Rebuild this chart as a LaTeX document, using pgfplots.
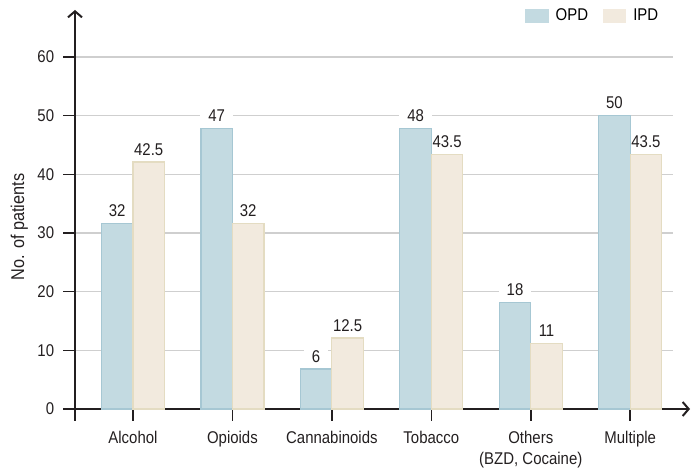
\documentclass[border=0pt]{standalone}
\usepackage{fontspec}
\setmainfont{Liberation Sans}[FakeStretch=0.88]
\usepackage{pgfplots}
\usepackage{pgfplotstable}
\pgfplotsset{compat=1.18}
\usetikzlibrary{arrows.meta}
\definecolor{opd}{HTML}{C3DAE1}
\definecolor{opdb}{HTML}{A6C7D3}
\definecolor{ipd}{HTML}{F2EADE}
\definecolor{ipdb}{HTML}{E4DCC2}
\definecolor{axc}{HTML}{231F20}
\definecolor{gridc}{HTML}{CFCFCF}
\newcommand{\bigf}{\fontsize{17}{20}\selectfont}
\pgfplotstableread{
x opd opdl ipd ipdl
0 31.6 32 42.1 42.5
1 47.8 47 31.6 32
2 6.8 6 12.1 12.5
3 47.8 48 43.4 43.5
4 18.2 18 11.2 11
5 50.0 50 43.4 43.5
}\datatab
\begin{document}
\bigf
\begin{tikzpicture}[font=\bigf]
\begin{axis}[name=ax, scale only axis, width=598pt, height=399pt,
  set layers=standard,
  font=\bigf,
  xmin=-0.583, xmax=5.43, ymin=0, ymax=68,
  axis lines=left,
  axis line style={axc, line width=2pt},
  x axis line style={-{Straight Barb[length=6pt,width=14pt,line width=2pt]}, shorten >=-17pt},
  y axis line style={-{Straight Barb[length=6pt,width=14pt,line width=2pt]}},
  tick align=outside, major tick length=12pt,
  tick style={axc, line width=1.5pt},
  ytick={0,10,...,60},
  ymajorgrids, grid style={gridc, line width=1.2pt},
  xtick={0,...,5},
  xticklabels={Alcohol, Opioids, Cannabinoids, Tobacco, {Others\\[1pt](BZD, Cocaine)}, Multiple},
  xticklabel style={align=center, text=axc, font=\bigf, yshift=-4pt},
  yticklabel style={text=axc, font=\bigf, xshift=-3pt},
  extra x ticks={-0.583}, extra x tick labels={},
  /pgf/number format/assume math mode=true,
  ylabel={No. of patients},
  ylabel style={at={(axis description cs:-0.093,0.456)}, anchor=center, text=axc,
    font=\fontsize{18.5}{22}\selectfont},
  ybar=0pt, bar width=31.5pt,
  legend style={draw=none, fill=none, at={(axis description cs:0.984,0.985)}, anchor=east,
    legend columns=2, font=\bigf, /tikz/every even column/.append style={column sep=13pt}},
]
\addplot[fill=opd, draw=opdb, line width=1.2pt, bar shift=-15.75pt,
  nodes near coords, point meta=explicit symbolic,
  nodes near coords style={text=axc, fill=white, inner xsep=8pt, inner ysep=2pt, yshift=4pt, font=\bigf},
  legend image code/.code={\fill[opd] (0pt,-6pt) rectangle (22pt,6pt); \path (27pt,0pt);}]
  table[x=x, y=opd, meta=opdl] {\datatab};
\addplot[fill=ipd, draw=ipdb, line width=1.2pt, bar shift=15.75pt,
  nodes near coords, point meta=explicit symbolic,
  nodes near coords style={text=axc, fill=white, inner xsep=8pt, inner ysep=2pt, yshift=4pt, font=\bigf},
  legend image code/.code={\fill[ipd] (0pt,-6pt) rectangle (22pt,6pt); \path (27pt,0pt);}]
  table[x=x, y=ipd, meta=ipdl] {\datatab};
\addplot[fill=opd, draw=opdb, line width=1.2pt, bar shift=-15.75pt, forget plot,
  on layer=axis descriptions]
  table[x=x, y=opd] {\datatab};
\addplot[fill=ipd, draw=ipdb, line width=1.2pt, bar shift=15.75pt, forget plot,
  on layer=axis descriptions]
  table[x=x, y=ipd] {\datatab};
\legend{OPD, IPD}
\end{axis}
\path (ax.south west) ++(-75pt,-61pt) rectangle ++(691pt,470pt);
\end{tikzpicture}
\end{document}
